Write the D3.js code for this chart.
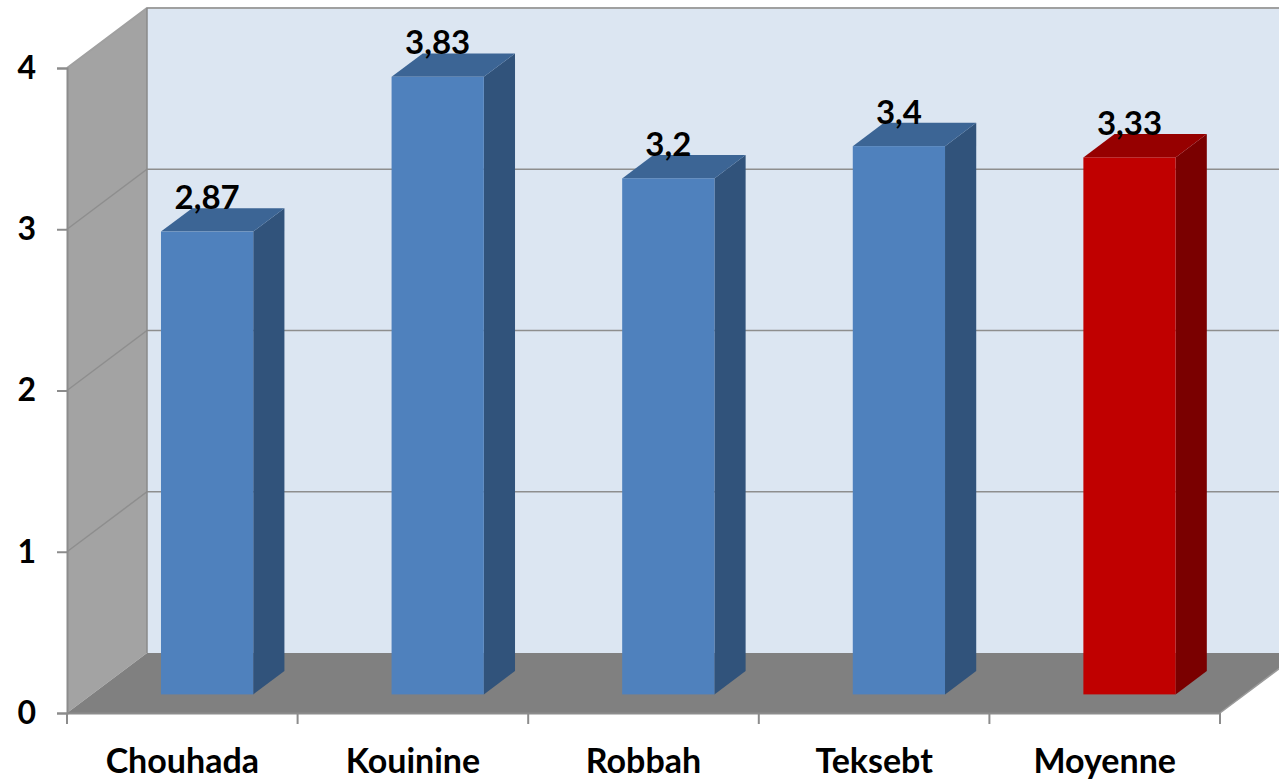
<!DOCTYPE html>
<html lang="fr">
<head>
<meta charset="UTF-8">
<title>Moyennes</title>
<script src="https://d3js.org/d3.v7.min.js"></script>
<style>
body{margin:0; background:#fff; overflow:hidden;}
svg text{font-family:"Lato","Open Sans",sans-serif; font-weight:700; fill:#000;}
</style>
</head>
<body>
<div class="chart"></div>
<script>
// data
var categories = ["Chouhada", "Kouinine", "Robbah", "Teksebt", "Moyenne"];
var values = [2.87, 3.83, 3.2, 3.4, 3.33];
var valueLabels = ["2,87", "3,83", "3,2", "3,4", "3,33"];
var yTicks = [0, 1, 2, 3, 4];

var w = 1279, h = 781;
var plotL = 67, plotR = 1220, plotB = 713, plotT = 68;
var depthX = 80, depthY = 60;      // full depth of the 3d box
var barFront = 0.31, barBack = 0.70; // bar depth as a fraction of the box

var svg = d3.select(".chart").append("svg")
	.attr("width", w)
	.attr("height", h);

var x = d3.scaleBand()
	.domain(categories)
	.range([plotL, plotR])
	.paddingInner(0.6)
	.paddingOuter(0.3);

var y = d3.scaleLinear()
	.domain([0, 4])
	.range([plotB, plotT]);

// point at plot coords px,py pushed back by depth fraction d
function p(px, py, d){
	return [px + d * depthX, py - d * depthY];
}
function poly(pts){
	return pts.map(function(q){ return q.join(","); }).join(" ");
}

// walls and floor
svg.append("polygon")
	.attr("points", poly([p(plotL, y(4), 1), p(plotR + 200, y(4), 1), p(plotR + 200, y(0), 1), p(plotL, y(0), 1)]))
	.attr("fill", "#dce6f2");

svg.append("polygon")
	.attr("points", poly([p(plotL, y(4), 0), p(plotL, y(4), 1), p(plotL, y(0), 1), p(plotL, y(0), 0)]))
	.attr("fill", "#a3a3a3");

svg.append("polygon")
	.attr("points", poly([p(plotL, y(0), 0), p(plotR, y(0), 0), p(plotR, y(0), 1), p(plotL, y(0), 1)]))
	.attr("fill", "#808080");

// gridlines: back wall + left wall
yTicks.forEach(function(t){
	if (t === 0) return;
	var a = p(plotL, y(t), 0), b = p(plotL, y(t), 1), c = p(plotR + 200, y(t), 1);
	svg.append("polyline")
		.attr("points", poly([a, b, c]))
		.attr("fill", "none")
		.attr("stroke", t === 4 ? "#a0a0a0" : "#8e8e8e")
		.attr("stroke-width", t === 4 ? 2 : 1.5);
});

// back wall corner edge
svg.append("line")
	.attr("x1", plotL + depthX).attr("y1", y(4) - depthY)
	.attr("x2", plotL + depthX).attr("y2", y(0) - depthY)
	.attr("stroke", "#8a8a8a").attr("stroke-width", 1.5);

// floor right edge
svg.append("line")
	.attr("x1", plotR).attr("y1", plotB)
	.attr("x2", plotR + depthX).attr("y2", plotB - depthY)
	.attr("stroke", "#9a9a9a").attr("stroke-width", 1.5);

// bars
var colors = {
	blue: {front: "#4f81bd", top: "#3c6595", side: "#31537b"},
	red: {front: "#c00000", top: "#960000", side: "#7a0000"}
};

var bars = svg.selectAll("g.bar")
	.data(values)
	.enter()
	.append("g")
	.attr("class", "bar");

bars.each(function(d, i){
	var g = d3.select(this);
	var c = categories[i] === "Moyenne" ? colors.red : colors.blue;
	var x0 = x(categories[i]), x1 = x0 + x.bandwidth();
	var yt = y(d), yb = y(0);
	// side
	g.append("polygon")
		.attr("points", poly([p(x1, yt, barFront), p(x1, yt, barBack), p(x1, yb, barBack), p(x1, yb, barFront)]))
		.attr("fill", c.side);
	// top
	g.append("polygon")
		.attr("points", poly([p(x0, yt, barFront), p(x1, yt, barFront), p(x1, yt, barBack), p(x0, yt, barBack)]))
		.attr("fill", c.top);
	// front
	var f0 = p(x0, yt, barFront), f1 = p(x1, yb, barFront);
	g.append("rect")
		.attr("x", f0[0])
		.attr("y", f0[1])
		.attr("width", f1[0] - f0[0])
		.attr("height", f1[1] - f0[1])
		.attr("fill", c.front);
});

// value labels
svg.selectAll("text.val")
	.data(values)
	.enter()
	.append("text")
	.attr("class", "val")
	.attr("text-anchor", "middle")
	.attr("font-size", "33px")
	.attr("x", function(d, i){ return p(x(categories[i]) + x.bandwidth() / 2, 0, barFront)[0]; })
	.attr("y", function(d){ return p(0, y(d), barBack)[1] + 1; })
	.text(function(d, i){ return valueLabels[i]; });

// y axis on the front plane
var yAxis = d3.axisLeft(y)
	.tickValues(yTicks)
	.tickSize(10)
	.tickPadding(21)
	.tickFormat(d3.format("d"));

var ya = svg.append("g")
	.attr("transform", "translate(" + plotL + ",0)")
	.call(yAxis);
ya.select(".domain").attr("stroke", "#8c8c8c").attr("stroke-width", 2);
ya.selectAll(".tick line").attr("stroke", "#8c8c8c").attr("stroke-width", 2);
ya.selectAll(".tick text")
	.attr("font-size", "32px")
	.attr("font-family", "Lato, 'Open Sans', sans-serif")
	.attr("font-weight", 700)
	.attr("fill", "#000");

// x axis: labels at band centres, ticks at band edges
var xAxis = d3.axisBottom(x).tickSize(0).tickPadding(36);
var xa = svg.append("g")
	.attr("transform", "translate(0," + plotB + ")")
	.call(xAxis);
xa.select(".domain").attr("stroke", "#8c8c8c").attr("stroke-width", 2);
xa.selectAll(".tick text")
	.attr("font-size", "34px")
	.attr("font-family", "Lato, 'Open Sans', sans-serif")
	.attr("font-weight", 700)
	.attr("fill", "#000");

var edges = categories.map(function(c){ return x(c) - x.step() * x.paddingInner() / 2; });
edges.push(plotR);
edges[0] = plotL;
svg.selectAll("line.xtick")
	.data(edges)
	.enter()
	.append("line")
	.attr("class", "xtick")
	.attr("x1", function(d){ return d; })
	.attr("x2", function(d){ return d; })
	.attr("y1", plotB)
	.attr("y2", plotB + 11)
	.attr("stroke", "#8c8c8c")
	.attr("stroke-width", 2);
</script>
</body>
</html>
